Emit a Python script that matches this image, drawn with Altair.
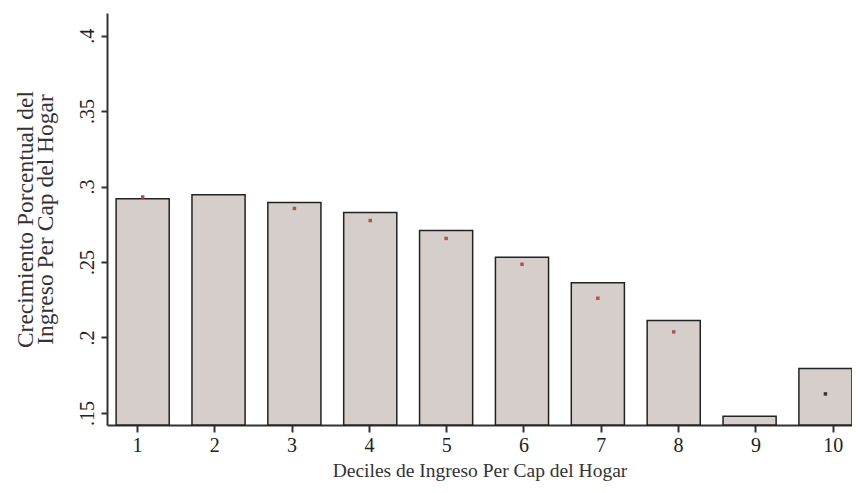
import altair as alt
import pandas as pd

deciles = [1, 2, 3, 4, 5, 6, 7, 8, 9, 10]
crecimiento = [0.2920, 0.2945, 0.2894, 0.2828, 0.2709, 0.2531, 0.2363, 0.2112, 0.1478, 0.1795]
punto_deciles = [1, 3, 4, 5, 6, 7, 8, 10]
punto_valores = [0.2931, 0.2855, 0.2775, 0.2656, 0.2485, 0.2260, 0.2037, 0.1626]
punto_colores = ["#b5504a", "#b5504a", "#b5504a", "#b5504a", "#b5504a", "#b5504a", "#b5504a", "#333333"]
y_ticks = [0.15, 0.2, 0.25, 0.3, 0.35, 0.4]

df = pd.DataFrame({"decil": deciles, "valor": crecimiento})
dfp = pd.DataFrame({"decil": punto_deciles, "valor": punto_valores, "color": punto_colores})

FONT = "Liberation Serif"
YDOM = [0.142, 0.415]

band = alt.Scale(type="band", domain=deciles, paddingInner=0.3, paddingOuter=0.06, align=1)
yscale = alt.Scale(domain=YDOM, nice=False, zero=False)

yaxis = alt.Axis(
    values=y_ticks,
    labelExpr="replace(toString(datum.value), /^0/, '')",
    labelAngle=270,
    labelFont=FONT, labelFontSize=20, labelColor="#222",
    labelPadding=4,
    domainColor="#333", domainWidth=2,
    tickColor="#333", tickWidth=2, tickSize=6,
    grid=False,
    title=["Crecimiento Porcentual del", "Ingreso Per Cap del Hogar"],
    titleFont=FONT, titleFontSize=23.5, titleFontWeight="normal", titleColor="#333",
    titleLineHeight=20,
    titlePadding=20,
)

bars = alt.Chart(df).mark_bar(fill="#d6cecb", stroke="#222", strokeWidth=1.5).encode(
    x=alt.X("decil:O", axis=None, scale=band),
    y=alt.Y("valor:Q", scale=yscale, axis=yaxis),
    y2=alt.datum(YDOM[0]),
)

points = alt.Chart(dfp).mark_square(size=12, opacity=1).encode(
    x=alt.X("decil:O", axis=None, scale=band, bandPosition=0.5),
    y=alt.Y("valor:Q", scale=yscale),
    color=alt.Color("color:N", scale=None),
)

axis_layer = alt.Chart(df).mark_point(opacity=0).encode(
    x=alt.X(
        "decil:Q",
        scale=alt.Scale(domain=[0.612, 10.25], nice=False, zero=False),
        axis=alt.Axis(
            values=deciles, orient="bottom", format="d",
            labelFont=FONT, labelFontSize=20, labelColor="#222", labelPadding=3,
            domainColor="#333", domainWidth=2,
            tickColor="#333", tickWidth=2, tickSize=7,
            grid=False,
            title="Deciles de Ingreso Per Cap del Hogar",
            titleFont=FONT, titleFontSize=19.5, titleFontWeight="normal", titleColor="#333",
            titlePadding=6,
        ),
    ),
    y=alt.Y("valor:Q", scale=yscale),
)

chart = alt.layer(bars, points, axis_layer).resolve_scale(x="independent").properties(
    width=745, height=412,
    autosize=alt.AutoSizeParams(type="none"),
    padding={"left": 99, "top": 5, "right": 0, "bottom": 60},
    background="white",
).configure_view(stroke=None)

chart.save("out.html", embed_options={"renderer": "svg", "actions": False})
